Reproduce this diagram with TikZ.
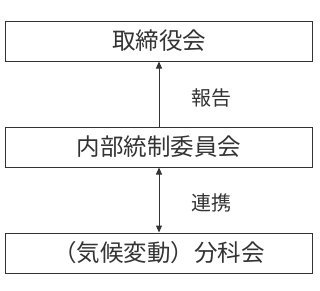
\documentclass[tikz,border=0pt]{standalone}
\usepackage{fontspec}
\newfontfamily\jp{Noto Sans CJK JP}[Scale=1]
\usetikzlibrary{arrows.meta}
\definecolor{ink}{HTML}{333333}
\begin{document}
\begin{tikzpicture}[x=1pt,y=-1pt,
  orgbox/.style={draw=ink,line width=1pt,minimum width=307pt,minimum height=40pt,inner sep=0pt,font=\jp\fontsize{23.5}{26}\selectfont,text=ink},
  lbl/.style={font=\jp\fontsize{20}{22}\selectfont,text=ink,inner sep=0pt},
  conn/.style={draw=ink,line width=1pt,-{Triangle[length=7pt,width=6pt]}}]
\useasboundingbox (0,0) rectangle (320,290);
\node[orgbox] (board) at (159,41) {取締役会};
\node[orgbox] (ic) at (159,147) {内部統制委員会};
\node[orgbox] (sub) at (159,253) {（気候変動）分科会};
\draw[conn] (ic.north) -- (board.south);
\draw[conn,{Triangle[length=7pt,width=6pt]}-{Triangle[length=7pt,width=6pt]}] (sub.north) -- (ic.south);
\node[lbl] (rep) at (211,98) {報告};
\node[lbl] (link) at (211,203) {連携};
\end{tikzpicture}
\end{document}
